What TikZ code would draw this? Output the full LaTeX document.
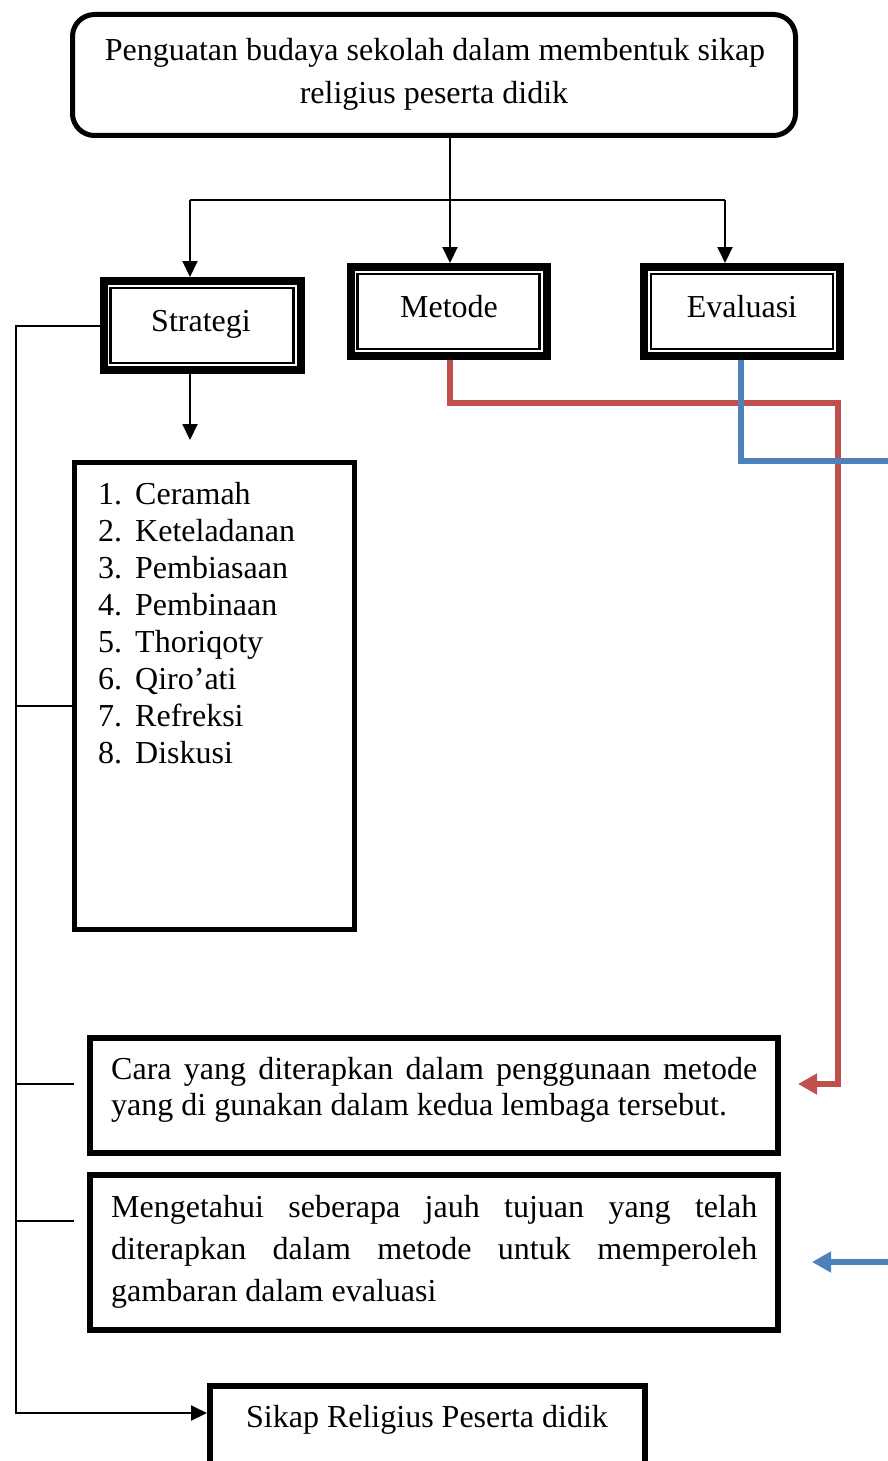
\documentclass[tikz,border=0pt]{standalone}
\usepackage{fontspec}
\setmainfont{Liberation Serif}
\usetikzlibrary{arrows.meta}
\definecolor{redl}{HTML}{C0504D}
\definecolor{bluel}{HTML}{4F81BD}
\begin{document}
\begin{tikzpicture}[x=1pt,y=-1pt,
  font=\fontsize{32}{37}\selectfont,
  conn/.style={line width=2pt},
  arr/.style={line width=2pt,-{Triangle[length=16pt,width=15pt]}},
  redline/.style={line width=6pt,draw=redl},
  blueline/.style={line width=6pt,draw=bluel},
  carr/.style={-{Triangle[length=19pt,width=20pt]}},
  dblbox/.style={draw,line width=8pt,rectangle,inner sep=0pt},
  innerline/.style={line width=2.2pt},
  plainbox/.style={draw,line width=6pt,rectangle,inner sep=0pt},
  txt/.style={inner sep=0pt,anchor=base},
  txtw/.style={inner sep=0pt,anchor=base west}]
\useasboundingbox (0,0) rectangle (888,1461);
\fill[white] (0,0) rectangle (888,1461);

% top box
\node[draw,line width=5pt,rounded corners=22pt,minimum width=723pt,minimum height=121pt,inner sep=0pt] (top) at (434,75) {};
\node[txt] (topa) at (435,61) {Penguatan budaya sekolah dalam membentuk sikap};
\node[txt] (topb) at (434,104) {religius peserta didik};

% three boxes
\node[dblbox,minimum width=197pt,minimum height=89pt] (strat) at (202,325.5) {};
\draw[innerline] ([xshift=11pt,yshift=-11pt]strat.north west) rectangle ([xshift=-11pt,yshift=11pt]strat.south east);
\node[txt] (stratT) at (201,331) {Strategi};

\node[dblbox,minimum width=196pt,minimum height=89pt] (metode) at (448.5,311.5) {};
\draw[innerline] ([xshift=11pt,yshift=-11pt]metode.north west) rectangle ([xshift=-11pt,yshift=11pt]metode.south east);
\node[txt] (metodeT) at (449,317) {Metode};

\node[dblbox,minimum width=196pt,minimum height=89pt] (eval) at (742,311.5) {};
\draw[innerline] ([xshift=11pt,yshift=-11pt]eval.north west) rectangle ([xshift=-11pt,yshift=11pt]eval.south east);
\node[txt] (evalT) at (742,317) {Evaluasi};

% list box
\node[draw,line width=5pt,minimum width=280pt,minimum height=467pt,inner sep=0pt] (list) at (214.5,696) {};
\foreach \t [count=\i] in {Ceramah,Keteladanan,Pembiasaan,Pembinaan,Thoriqoty,Qiro’ati,Refreksi,Diskusi}{
  \node[txtw] (num\i) at (98,{504+37*(\i-1)}) {\i.};
  \node[txtw] (item\i) at (135,{504+37*(\i-1)}) {\t};
}

% cara box
\node[plainbox,minimum width=688pt,minimum height=115pt] (cara) at (434,1095.5) {};
\node[txtw] (caraa) at (111,1079) {\makebox[646pt][s]{Cara yang diterapkan dalam penggunaan metode}};
\node[txtw] (carab) at (111,1115) {yang di gunakan dalam kedua lembaga tersebut.};

% mengetahui box
\node[plainbox,minimum width=688pt,minimum height=155pt] (meng) at (434,1252.5) {};
\node[txtw] (menga) at (111,1217) {\makebox[646pt][s]{Mengetahui seberapa jauh tujuan yang telah}};
\node[txtw] (mengb) at (111,1259) {\makebox[646pt][s]{diterapkan dalam metode untuk memperoleh}};
\node[txtw] (mengc) at (111,1301) {gambaran dalam evaluasi};

% sikap box
\node[plainbox,minimum width=435pt,minimum height=110pt] (sikap) at (427.5,1441) {};
\node[txt] (sikapT) at (427,1427) {Sikap Religius Peserta didik};

% black connectors
\coordinate (jm) at (450,200);
\coordinate (jl) at (190,200);
\coordinate (jr) at (725,200);
\draw[conn] (jm |- top.south) -- (jm);
\draw[arr] (jm) -- (jm |- metode.north);
\draw[conn] (jl) -- (jr);
\draw[arr] (jl) -- (jl |- strat.north);
\draw[arr] (jr) -- (jr |- eval.north);
\coordinate (sd) at (190,440);
\draw[arr] (sd |- strat.south) -- (sd);

\coordinate (bl) at (16,1413);
\draw[arr] (strat.west) -| (bl) -- (bl -| sikap.west);
\coordinate (t1) at (16,706);
\coordinate (t2) at (16,1084);
\coordinate (t3) at (16,1221);
\draw[conn] (t1) -- (t1 -| list.west);
\draw[conn] (t2) -- (74,1084);
\draw[conn] (t3) -- (74,1221);

% red connector
\coordinate (r1) at (450,403);
\coordinate (r2) at (838,403);
\coordinate (r3) at (838,1084);
\coordinate (r4) at (798,1084);
\draw[redline,carr] (r1 |- metode.south) -- (r1) -- (r2) -- (r3) -- (r4);

% blue connector
\coordinate (b1) at (741,461);
\coordinate (b2) at (895,461);
\draw[blueline] (b1 |- eval.south) -- (b1) -- (b2);
\coordinate (b3) at (895,1262);
\coordinate (b4) at (812,1262);
\draw[blueline,carr] (b3) -- (b4);
\end{tikzpicture}
\end{document}
